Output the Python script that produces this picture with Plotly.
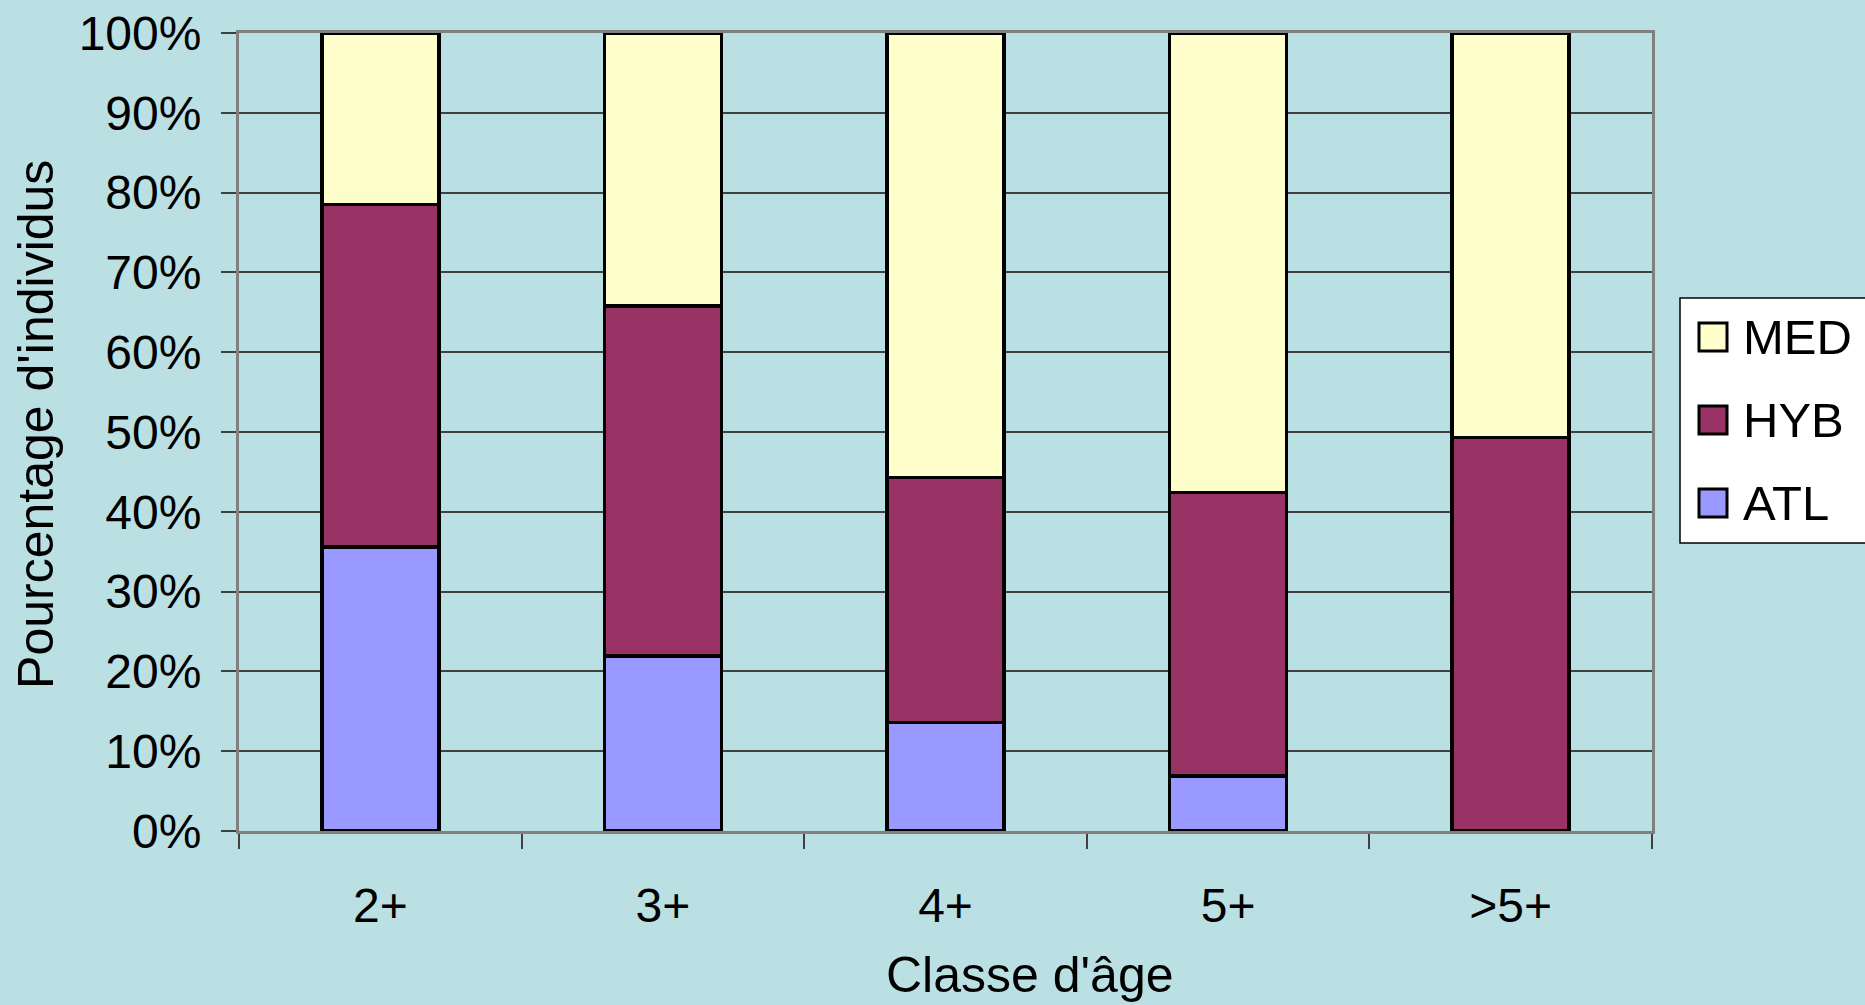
import plotly.graph_objects as go

# Age classes and composition (% of individuals) per genetic group
categories = ["2+", "3+", "4+", "5+", ">5+"]
atl = [35.6, 21.9, 13.6, 6.9, 0.0]
hyb = [42.9, 43.9, 30.7, 35.5, 49.3]
med = [21.5, 34.2, 55.7, 57.6, 50.7]
y_ticks = [0, 10, 20, 30, 40, 50, 60, 70, 80, 90, 100]
y_tick_labels = [f"{v}%" for v in y_ticks]

series = [
    ("ATL", atl, "#9999FF"),
    ("HYB", hyb, "#993366"),
    ("MED", med, "#FFFFCC"),
]

FONT = "Arial, Liberation Sans, sans-serif"
BG = "#BBE0E3"

fig = go.Figure()
for name, vals, color in series:
    fig.add_trace(go.Bar(
        x=categories, y=vals, name=name,
        marker=dict(color=color, line=dict(color="black", width=3.5)),
        showlegend=False,
    ))

fig.update_layout(
    width=1865, height=1005,
    barmode="stack", bargap=0.586,
    paper_bgcolor=BG, plot_bgcolor=BG,
    margin=dict(l=239, r=213, t=33, b=174),
    font=dict(family=FONT, size=48, color="black"),
)

fig.update_xaxes(
    type="category", tickson="boundaries", automargin=False,
    ticks="outside", ticklen=15, tickwidth=1.5, tickcolor="#404040",
    showline=True, linecolor="#808080", linewidth=3, mirror=True,
    showgrid=False, ticklabelstandoff=30,
    tickfont=dict(family=FONT, size=48),
)
fig.update_yaxes(
    range=[0, 100], tickmode="array", tickvals=y_ticks, ticktext=y_tick_labels,
    automargin=False,
    ticks="outside", ticklen=15, tickwidth=1.5, tickcolor="#404040",
    showline=True, linecolor="#808080", linewidth=3, mirror=True,
    showgrid=True, gridcolor="#404040", gridwidth=1.5,
    zeroline=False, ticklabelstandoff=10,
    tickfont=dict(family=FONT, size=48),
)

# Axis titles
fig.add_annotation(
    text="Pourcentage d'individus", textangle=-90,
    xref="paper", yref="paper", x=-0.1437, y=0.51,
    xanchor="center", yanchor="middle", showarrow=False,
    font=dict(family=FONT, size=50),
)
fig.add_annotation(
    text="Classe d'âge",
    xref="paper", yref="paper", x=0.56, y=-0.181,
    xanchor="center", yanchor="middle", showarrow=False,
    font=dict(family=FONT, size=50),
)

# Legend box with square swatches (top to bottom: MED, HYB, ATL)
fig.add_shape(type="rect", xref="paper", yref="paper",
              x0=(1680 - 239) / 1413, x1=(1870 - 239) / 1413,
              y0=(831 - 543) / 798, y1=(831 - 298) / 798,
              fillcolor="white", line=dict(color="black", width=1.5))
legend_rows = [("MED", "#FFFFCC", 337), ("HYB", "#993366", 420), ("ATL", "#9999FF", 503)]
for name, color, yc in legend_rows:
    fig.add_shape(type="rect", xref="paper", yref="paper",
                  x0=(1699 - 239) / 1413, x1=(1727 - 239) / 1413,
                  y0=(831 - (yc + 14)) / 798, y1=(831 - (yc - 14)) / 798,
                  fillcolor=color, line=dict(color="black", width=3))
    fig.add_annotation(text=name, xref="paper", yref="paper",
                       x=(1741 - 239) / 1413, y=(831 - yc) / 798,
                       xanchor="left", yanchor="middle", showarrow=False,
                       font=dict(family=FONT, size=49))

fig.write_html("out.html")
